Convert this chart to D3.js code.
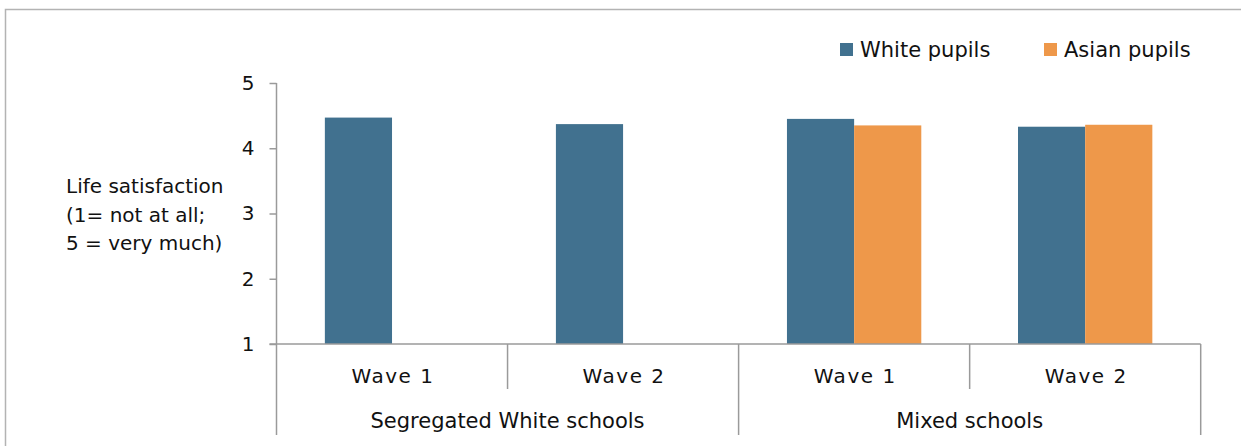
<!DOCTYPE html>
<html>
<head>
<meta charset="utf-8">
<script src="https://cdn.jsdelivr.net/npm/d3@7"></script>
<style>
  html, body { margin: 0; padding: 0; background: #ffffff; }
  svg { display: block; }
  text { font-family: "DejaVu Sans", sans-serif; fill: #111111; }
</style>
</head>
<body>
<svg id="chart" width="1241" height="446"></svg>
<script>
// ---- data ----
const waves = ["Wave 1", "Wave 2", "Wave 1", "Wave 2"];
const schoolGroups = ["Segregated White schools", "Mixed schools"];
const groupOfCategory = [0, 0, 1, 1];
const seriesNames = ["White pupils", "Asian pupils"];
const whitePupils = [4.47, 4.37, 4.45, 4.33];
const asianPupils = [null, null, 4.35, 4.36];
const yTicks = [1, 2, 3, 4, 5];
const yTitleLines = ["Life satisfaction", "(1= not at all;", "5 = very much)"];

// ---- styling ----
const colors = ["#41718f", "#ee984a"];
const axisColor = "#9a9a9a";
const frameColor = "#b3b3b3";

const svg = d3.select("#chart");

// frame (top + left border visible)
svg.append("path")
  .attr("d", "M5.5,460 L5.5,9.5 L1250,9.5")
  .attr("fill", "none").attr("stroke", frameColor).attr("stroke-width", 1.5);

const plotLeft = 276.5, plotRight = 1200.7, plotTop = 83, plotBottom = 344;

const y = d3.scaleLinear().domain([1, 5]).range([plotBottom, plotTop]);
const catIdx = d3.range(waves.length);
const x0 = d3.scaleBand().domain(catIdx).range([plotLeft, plotRight]).padding(0);
const x1 = d3.scaleBand().domain(seriesNames).range([0, x0.bandwidth()])
  .paddingInner(0).paddingOuter(0.72);

const seriesData = [whitePupils, asianPupils];

// bars
seriesNames.forEach((s, si) => {
  svg.append("g").selectAll("rect")
    .data(catIdx.filter(i => seriesData[si][i] != null))
    .join("rect")
    .attr("x", i => x0(i) + x1(s))
    .attr("width", x1.bandwidth())
    .attr("y", i => y(seriesData[si][i]))
    .attr("height", i => y(1) - y(seriesData[si][i]))
    .attr("fill", colors[si]);
});

// y axis
const yAxis = d3.axisLeft(y).tickValues(yTicks).tickSize(7).tickPadding(15)
  .tickFormat(d3.format("d"));
const gy = svg.append("g").attr("transform", `translate(${plotLeft},0)`).call(yAxis);
gy.select(".domain").remove();
gy.selectAll(".tick line").attr("stroke", axisColor).attr("stroke-width", 1.5);
gy.selectAll(".tick text").style("font-size", "20px").attr("fill", "#111111")
  .style("font-family", "DejaVu Sans, sans-serif");
// vertical axis line (extends through category label area)
svg.append("line").attr("x1", plotLeft).attr("x2", plotLeft)
  .attr("y1", plotTop).attr("y2", 435)
  .attr("stroke", axisColor).attr("stroke-width", 1.5);

// x axis baseline
svg.append("line").attr("x1", plotLeft - 7).attr("x2", plotRight)
  .attr("y1", plotBottom).attr("y2", plotBottom)
  .attr("stroke", axisColor).attr("stroke-width", 1.5);

// wave dividers
catIdx.forEach(i => {
  const xr = x0(i) + x0.bandwidth();
  const isGroupEnd = (i === catIdx.length - 1) || groupOfCategory[i] !== groupOfCategory[i + 1];
  svg.append("line").attr("x1", xr).attr("x2", xr)
    .attr("y1", plotBottom).attr("y2", isGroupEnd ? 435 : 389)
    .attr("stroke", axisColor).attr("stroke-width", 1.5);
});

// wave labels
svg.append("g").selectAll("text").data(catIdx).join("text")
  .attr("x", i => x0(i) + x0.bandwidth() / 2 + 1)
  .attr("y", 383)
  .attr("text-anchor", "middle")
  .style("font-size", "20px")
  .style("letter-spacing", "1.5px")
  .text(i => waves[i]);

// group labels
svg.append("g").selectAll("text").data(schoolGroups).join("text")
  .attr("x", (g, gi) => {
    const members = catIdx.filter(i => groupOfCategory[i] === gi);
    return (x0(members[0]) + x0(members[members.length - 1]) + x0.bandwidth()) / 2;
  })
  .attr("y", 428)
  .attr("text-anchor", "middle")
  .style("font-size", "21px")
  .text(d => d);

// y title
svg.append("g").selectAll("text").data(yTitleLines).join("text")
  .attr("x", 66)
  .attr("y", (d, i) => 193 + i * 28.5)
  .style("font-size", "20px")
  .text(d => d);

// legend
const legendX = [840, 1044];
const lg = svg.append("g");
seriesNames.forEach((s, si) => {
  lg.append("rect").attr("x", legendX[si]).attr("y", 43).attr("width", 13).attr("height", 13)
    .attr("fill", colors[si]);
  lg.append("text").attr("x", legendX[si] + 20).attr("y", 57)
    .style("font-size", "21px").text(s);
});
</script>
</body>
</html>
